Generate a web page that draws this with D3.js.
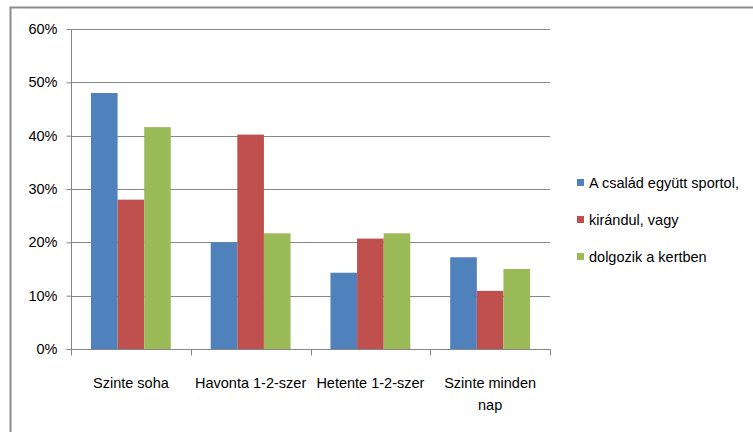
<!DOCTYPE html>
<html><head><meta charset="utf-8">
<script src="https://cdn.jsdelivr.net/npm/d3@7"></script>
<style>body{margin:0;background:#fff}svg{display:block}text{font-family:"Liberation Sans Narrow","Liberation Sans",sans-serif;fill:#000}</style>
</head><body><svg id="c" width="753" height="432"></svg>
<script>
const categories = ["Szinte soha", "Havonta 1-2-szer", "Hetente 1-2-szer", "Szinte minden nap"];
const seriesNames = ["A család együtt sportol,", "kirándul, vagy", "dolgozik a kertben"];
const seriesColors = ["#4f81bd", "#c0504d", "#9bbb59"];
const sport = [0.48, 0.20, 0.143, 0.172];
const kirandul = [0.28, 0.402, 0.207, 0.109];
const kert = [0.416, 0.217, 0.217, 0.15];
const yTicks = [0, 0.1, 0.2, 0.3, 0.4, 0.5, 0.6];

(function(){
const series = [sport, kirandul, kert];
const svg = d3.select("#c");
const pL = 71, pR = 550, pT = 29, pB = 349;

svg.append("path").attr("d", "M10.5,432 V7.5 H753").attr("fill","none").attr("stroke","#8c8c8c").attr("stroke-width",2);

const x = d3.scaleBand().domain(categories).range([pL, pR]);
const y = d3.scaleLinear().domain([0, 0.6]).range([pB, pT]);
const gw = x.bandwidth();
const bw = gw / 4.5;

svg.append("g").selectAll("line").data(yTicks.slice(1)).join("line")
  .attr("x1", pL).attr("x2", pR).attr("y1", d => Math.round(y(d))+0.5).attr("y2", d => Math.round(y(d))+0.5)
  .attr("stroke", "#868686").attr("stroke-width", 1);

series.forEach((vals, si) => {
  svg.append("g").selectAll("rect").data(vals).join("rect")
    .attr("x", (d,i) => x(categories[i]) + (gw - 3*bw)/2 + si*bw)
    .attr("width", bw)
    .attr("y", d => y(d))
    .attr("height", d => y(0) - y(d))
    .attr("fill", seriesColors[si]);
});

const ya = svg.append("g").attr("transform", `translate(${pL+0.5},0)`)
  .call(d3.axisLeft(y).tickValues(yTicks).tickFormat(d3.format(".0%")).tickSize(5).tickPadding(9));
ya.select(".domain").attr("stroke","#868686").attr("d", `M0,${pT+0.5}V${pB+0.5}`);
ya.selectAll(".tick line").attr("stroke","#868686");
ya.selectAll(".tick text").style("font-size","14.5px").attr("fill","#000").attr("font-family",null);

const xa = svg.append("g").attr("transform", `translate(0,${pB+0.5})`);
xa.append("line").attr("x1", pL).attr("x2", pR+0.5).attr("stroke","#868686");
xa.selectAll("line.t").data(d3.range(categories.length+1)).join("line").attr("class","t")
  .attr("x1", i => Math.round(pL + i*gw)+0.5).attr("x2", i => Math.round(pL + i*gw)+0.5)
  .attr("y1", 0).attr("y2", 6).attr("stroke","#868686");
const labelLines = categories.map(c => c === "Szinte minden nap" ? ["Szinte minden", "nap"] : [c]);
xa.selectAll("text").data(categories).join("text")
  .attr("text-anchor","middle").style("font-size","14.5px")
  .each(function(c, i){
    const t = d3.select(this);
    labelLines[i].forEach((ln, k) => t.append("tspan").attr("x", x(c)+gw/2).attr("y", 38 + k*22).text(ln));
  });

const lg = svg.append("g").attr("transform","translate(577,0)");
const ly = [183, 220, 257];
seriesNames.forEach((n, i) => {
  lg.append("rect").attr("x",0).attr("y",ly[i]-4).attr("width",7).attr("height",7).attr("fill",seriesColors[i]);
  lg.append("text").attr("x",12).attr("y",ly[i]+5).style("font-size","14.5px").text(n);
});
})();
</script></body></html>
